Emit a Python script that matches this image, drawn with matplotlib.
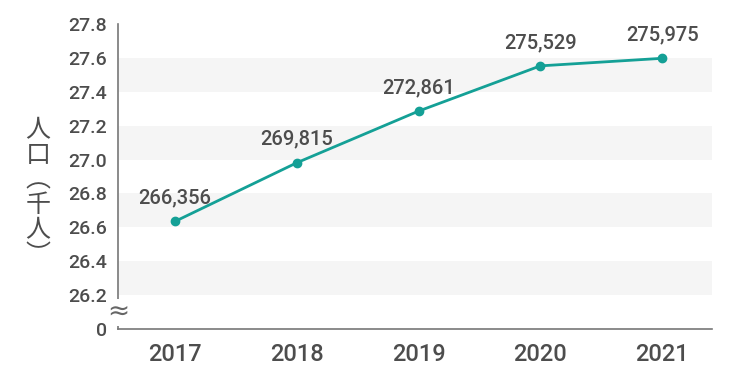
import matplotlib.pyplot as plt
import numpy as np

years = ["2017", "2018", "2019", "2020", "2021"]
population = [266356, 269815, 272861, 275529, 275975]
y_ticks = [26.0, 26.2, 26.4, 26.6, 26.8, 27.0, 27.2, 27.4, 27.6, 27.8]
y_tick_labels = ["0", "26.2", "26.4", "26.6", "26.8", "27.0", "27.2", "27.4", "27.6", "27.8"]
bands = [(26.2, 26.4), (26.6, 26.8), (27.0, 27.2), (27.4, 27.6)]

def main():
    plt.rcParams['font.family'] = ['Roboto', 'Noto Sans CJK JP', 'DejaVu Sans']
    text_color = "#4d4d4d"
    teal = "#14a096"

    fig = plt.figure(figsize=(7.5, 3.9), dpi=100)
    ax = fig.add_axes([118 / 750, 1 - 329 / 390, (712 - 118) / 750, (329 - 24) / 390])

    x = np.arange(len(years))
    y = np.array(population) / 10000

    for lo, hi in bands:
        ax.axhspan(lo, hi, color="#f5f5f5", zorder=0, lw=0)

    ax.plot(x, y, color=teal, lw=2.0, marker='o', markersize=6, zorder=3)
    for xi, yi, p in zip(x, y, population):
        ax.annotate(f"{p:,}", (xi, yi), xytext=(0, 10), textcoords="offset points",
                    ha="center", va="bottom", fontsize=14.5, color=text_color, fontweight="medium")

    ax.set_xlim(-0.47, 4.41)
    ax.set_ylim(26.0, 27.8)
    ax.set_xticks(x)
    ax.set_xticklabels(years, fontsize=17, color=text_color, fontweight="medium")
    ax.set_yticks(y_ticks)
    ax.set_yticklabels(y_tick_labels, fontsize=14, color=text_color, fontweight="medium")
    ax.tick_params(axis="both", length=0)
    ax.tick_params(axis="x", pad=10)
    ax.tick_params(axis="y", pad=8)

    for s in ["top", "right"]:
        ax.spines[s].set_visible(False)
    for s in ["left", "bottom"]:
        ax.spines[s].set_color("#777777")
        ax.spines[s].set_linewidth(1.2)

    # axis break mark
    ax.text(0, 26.1, "≈", transform=ax.get_yaxis_transform(), ha="center", va="center",
            fontsize=19, color="#666666", family="DejaVu Sans",
            bbox=dict(facecolor="white", edgecolor="none", pad=0.3), zorder=5, clip_on=False)

    fig.text(38 / 750, 1 - 193 / 390, "人\n口\n︵\n千\n人\n︶", ha="center", va="center",
             fontsize=18, color=text_color, family=["Noto Sans CJK JP"], linespacing=0.95)

    plt.savefig("out.png")

if __name__ == "__main__":
    main()
